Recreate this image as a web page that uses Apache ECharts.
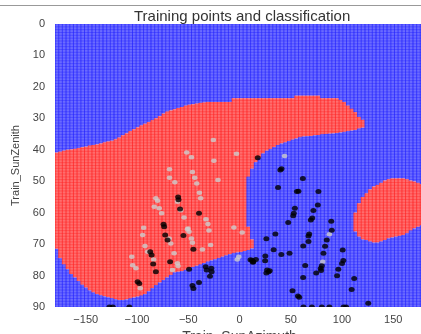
<!DOCTYPE html>
<html><head><meta charset="utf-8">
<script src="https://cdn.jsdelivr.net/npm/echarts@6/dist/echarts.min.js"></script>
<style>html,body{margin:0;padding:0;background:#fff;}#c{width:421px;height:334px;}</style>
</head><body><div id="c"></div>
<script>
// ---- classification mesh (columns of 3.6 deg starting at -180) ----
const meshX0 = -180, meshDX = 3.6, meshCols = 100, meshDY = 0.9;
// main red region: top / bottom per column (columns 0..83)
const mainTop = [40.9,40.6,40.3,40.0,39.9,39.7,39.5,39.2,39.0,38.7,
 38.5,38.3,38.0,37.7,37.4,37.1,36.7,36.1,35.4,34.8,
 34.1,33.5,32.9,32.3,31.7,31.2,30.6,30.0,29.3,28.5,
 27.9,27.5,27.1,26.7,26.4,26.0,25.7,25.5,25.3,25.1,
 25.0,24.8,24.8,24.8,24.8,24.8,24.8,24.8,23.6,23.6,
 23.6,23.6,23.6,23.6,23.6,23.6,23.6,23.6,23.6,23.6,
 23.6,23.6,23.6,23.6,23.6,22.8,22.8,22.8,22.8,22.8,
 22.8,22.8,23.6,23.6,23.6,23.6,23.6,24.2,24.8,26.0,
 27.0,28.0,29.6,30.5];
const mainBottom = [71.5,74.5,76.5,78.0,79.5,80.6,81.8,82.9,83.8,84.7,
 85.4,85.9,86.3,86.6,86.9,87.2,87.5,87.8,87.8,87.6,
 87.3,87.0,86.7,86.4,85.9,85.0,84.0,83.0,82.2,81.4,
 80.6,79.8,79.0,78.8,78.6,78.2,77.8,77.3,76.9,76.5,
 76.0,75.6,75.2,74.8,74.4,74.0,73.6,73.2,72.9,72.7,
 72.5,72.2,48.6,46.0,44.0,42.5,41.2,40.3,39.7,39.1,
 38.5,38.0,37.7,37.2,36.8,36.4,36.0,35.8,35.7,35.6,
 35.4,35.3,35.1,35.0,34.9,34.8,34.7,34.5,34.3,34.1,
 33.9,33.7,33.3,33.0];
// small lower red lobe: [column, top, bottom]
const lowerLobe = [[52,64.5,71.9],[53,68.5,71.4]];
// right red blob, columns 81..99
const blobFirstCol = 81;
const blobTop = [60,57,55,53.9,52.6,51.7,51.2,50.5,49.8,49.4,49.1,49.1,49.1,49.1,49.4,49.8,50.1,50.5,51];
const blobBottom = [66,67.6,68.5,68.7,69.2,69.5,69.5,69.2,68.7,68.2,67.9,67.6,67.4,67.1,66.6,65.7,65.0,64.5,64];

// ---- training points ----
const grayPts = [[-25.5,36.9],[-51.5,40.9],[-46.9,42.4],[-2.9,41.3],[-25,43.5],[-68.3,46.2],
 [-45.9,47.1],[-43.7,48.9],[-41.7,50.7],[-68.3,48.9],[-63.1,50.3],[-21,49.6],[-39.1,53.7],
 [-37.9,55.4],[-81.6,55.4],[-80,56.2],[-60.5,56.5],[-57.3,59.2],[-54.1,61.5],[-83.2,58.1],
 [-78.3,58.6],[-76,60.2],[-32.7,62.1],[-30.8,63.6],[-93.5,64.8],[-5.5,64.7],[-50.2,65],
 [44,42],[-94.5,67.1],[-68.6,68.2],[-67,69.8],[-92.2,70.6],[-89.6,72.4],[-83.8,74.9],
 [-105.1,74],[-104.2,76.7],[-101,77.7],[-96.8,84],[-63.8,72.9],[-60.5,76.1],[-59.9,77],
 [-65.4,78.2],[-50.8,65.3],[-49.2,66.1],[-46.9,68.2],[-45.9,69.6],[-36.2,71.7],
 [-29.8,65.7],[-28.2,70.3],[2.6,66.3],[-0.7,74],[-2.2,74.9],[87.7,66.9],[81.2,75.6]];
const blackPts = [[17.8,42.5],[39.8,46.4],[41,46],[61.8,49.1],[37.6,52],[56,53.3],[57.5,53.2],
 [77,53.3],[76.4,57.6],[54,58.6],[53,60.2],[52.4,61],[72.1,59.3],[71,61.7],[69.6,62.3],
 [89.5,62.7],[47.5,63.1],[90,65.6],[85.1,68.7],[83.5,70.7],[68,66.8],[67.3,67.4],[67.3,69.2],
 [62.2,70.6],[35,66.8],[26.2,68.3],[33.3,71.8],[40.8,73.3],[48.8,72.9],[100.7,71.9],
 [101.3,75.2],[100,76.2],[96.4,78],[95.2,80.1],[111.9,80.9],[109.4,84.4],[125.6,88.8],
 [12.3,75.1],[13.5,75.6],[16,74.9],[10.7,75],[25.2,73.8],[25,75.3],[26.9,78.2],[28.4,78.8],
 [26.2,79.2],[29.5,78.5],[64.1,76.8],[62.1,80.6],[74.8,79.2],[80.3,76.9],[79.3,77.7],
 [79.6,78.4],[81.9,72.9],[51.7,84.8],[57,86.5],[58.3,86.9],
 [62.4,90],[70.6,90],[80.3,90],[87.7,90],[101.5,90],[104,90],[-126.9,90],[-123.6,90],[-107.5,90],
 [-59.9,55],[-59.5,55.9],[-58,58.8],[-39.5,60.2],[-74.1,63.7],[-73.5,64.5],[-72.5,67.1],
 [-70.2,68.7],[-87.1,72.4],[-85.8,73.5],[-84.2,76.3],[-81.6,78.8],[-99.4,82],[-97.8,82.5],
 [-54.7,67.3],[-45,71.6],[-67.7,75.6],[-49.2,78],[-33,77.2],[-32,78.2],[-27.5,77.7],
 [-27.2,78.8],[-28.8,80.2],[-39.5,82.2],[-45.9,83.2],[-45,84.1],[13,75.8]];

const xTicks = [-150,-100,-50,0,50,100,150];
const yTicks = [0,10,20,30,40,50,60,70,80,90];

// build mesh segments per column: [x0, x1, y0, y1, cls] cls 1 = red, 0 = blue
const cells = [];
for (let i = 0; i < meshCols; i++) {
  const reds = [];
  if (i < mainTop.length) reds.push([mainTop[i], mainBottom[i]]);
  lowerLobe.forEach(l => { if (l[0] === i) reds.push([l[1], l[2]]); });
  const b = i - blobFirstCol;
  if (b >= 0 && b < blobTop.length) reds.push([blobTop[b], blobBottom[b]]);
  reds.sort((a, c) => a[0] - c[0]);
  const x0 = meshX0 + i * meshDX, x1 = x0 + meshDX;
  let cur = 0;
  reds.forEach(r => {
    if (r[0] > cur) cells.push([x0, x1, cur, r[0], 0]);
    cells.push([x0, x1, r[0], r[1], 1]);
    cur = r[1];
  });
  if (cur < 90) cells.push([x0, x1, cur, 90, 0]);
}

const palette = {
  0: {fill: '#6b6bff', v: 'rgba(10,10,255,0.65)', h: 'rgba(10,10,255,0.3)'},
  1: {fill: '#ff6d6d', v: 'rgba(255,10,10,0.65)', h: 'rgba(255,10,10,0.3)'}
};

function renderCell(params, api) {
  const x0 = api.value(0), x1 = api.value(1), y0 = api.value(2), y1 = api.value(3), cls = api.value(4);
  const p0 = api.coord([x0, y0]), p1 = api.coord([x1, y1]);
  const left = p0[0], right = p1[0];
  const top = Math.min(p0[1], p1[1]), bottom = Math.max(p0[1], p1[1]);
  let hd = '';
  for (let r = Math.ceil(y0 / meshDY); r * meshDY <= y1; r++) {
    const py = api.coord([x0, r * meshDY])[1];
    hd += 'M' + left + ' ' + py + 'L' + right + ' ' + py;
  }
  const vd = 'M' + left + ' ' + top + 'L' + left + ' ' + bottom;
  const pal = palette[cls];
  const children = [
    {type: 'rect', shape: {x: left, y: top, width: right - left, height: bottom - top}, style: {fill: pal.fill}}
  ];
  if (hd) children.push({type: 'path', shape: {pathData: hd}, style: {fill: 'none', stroke: pal.h, lineWidth: 1}});
  children.push({type: 'path', shape: {pathData: vd}, style: {fill: 'none', stroke: pal.v, lineWidth: 1}});
  return {type: 'group', children: children};
}

const chart = echarts.init(document.getElementById('c'), null, {renderer: 'canvas'});
const labelFont = {fontFamily: 'Liberation Sans, Arial, sans-serif', fontSize: 11, color: '#444'};
chart.setOption({
  animation: false,
  backgroundColor: '#fff',
  title: {
    text: 'Training points and classification',
    left: 129, top: 4,
    textStyle: {fontFamily: 'Liberation Sans, Arial, sans-serif', fontSize: 15, fontWeight: 'normal', color: '#333'}
  },
  grid: {left: 55, top: 24, width: 369, height: 283, containLabel: false, outerBoundsMode: 'none'},
  xAxis: {
    type: 'value', min: -180, max: 180, interval: 10,
    name: 'Train_SunAzimuth', nameLocation: 'middle', nameGap: 22,
    nameTextStyle: {fontFamily: 'Liberation Sans, Arial, sans-serif', fontSize: 14, color: '#444'},
    axisLine: {show: false}, axisTick: {show: false}, splitLine: {show: false},
    axisLabel: Object.assign({margin: 7, formatter: v => xTicks.includes(v) ? String(v).replace('-', '\u2212') : ''}, labelFont)
  },
  yAxis: {
    type: 'value', min: 0, max: 90, interval: 10, inverse: true,
    name: 'Train_SunZenith', nameLocation: 'middle', nameGap: 33, nameRotate: 90,
    nameTextStyle: {fontFamily: 'Liberation Sans, Arial, sans-serif', fontSize: 11, color: '#444'},
    axisLine: {show: false}, axisTick: {show: false}, splitLine: {show: false},
    axisLabel: Object.assign({margin: 10, formatter: v => yTicks.includes(v) ? String(v) : ''}, labelFont)
  },
  graphic: [
    {type: 'line', shape: {x1: 0, y1: 5.5, x2: 421, y2: 5.5}, style: {stroke: '#999', lineWidth: 1}, z: 10},
    {type: 'rect', shape: {x: 50, y: 307, width: 380, height: 6}, style: {fill: '#fff'}, z: 10}
  ],
  series: [
    {type: 'custom', renderItem: renderCell, data: cells, clip: true, silent: true,
     encode: {x: [0, 1], y: [2, 3]}, z: 1},
    {type: 'scatter', data: grayPts, symbol: 'circle', symbolSize: [5.5, 4.5],
     itemStyle: {color: '#cdcdcd'}, z: 3, silent: true},
    {type: 'scatter', data: blackPts, symbol: 'circle', symbolSize: [6, 5],
     itemStyle: {color: '#000'}, z: 4, silent: true}
  ]
});
</script></body></html>
